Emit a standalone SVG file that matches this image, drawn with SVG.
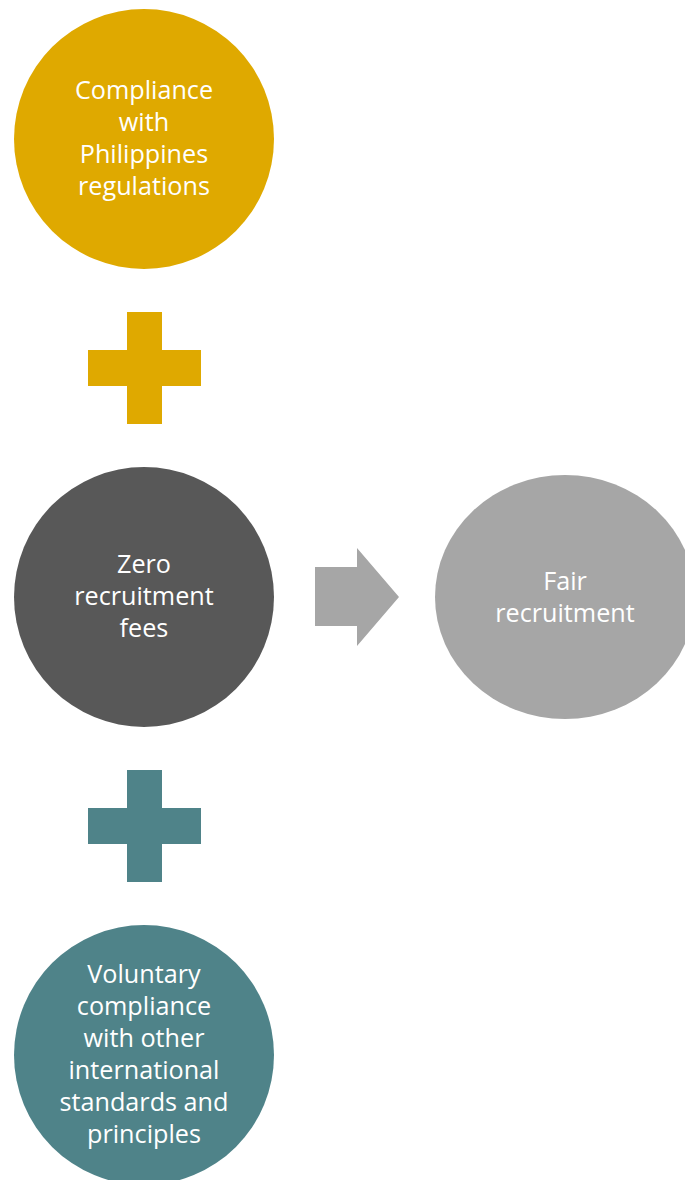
<svg xmlns="http://www.w3.org/2000/svg" width="685" height="1180" viewBox="0 0 685 1180">
  <style>
    .lbl { font-family: "Open Sans", "Liberation Sans", sans-serif; font-size: 25.2px; fill: #ffffff; text-anchor: middle; }
    .gold { fill: #DFA900; }
    .dark { fill: #585858; }
    .grey { fill: #A6A6A6; }
    .teal { fill: #4F8389; }
  </style>
  <rect width="685" height="1180" fill="#ffffff"/>

  <g id="node-philippines">
    <ellipse class="gold" cx="144" cy="139" rx="130" ry="130"/>
    <text class="lbl" x="144" y="99">Compliance</text>
    <text class="lbl" x="144" y="131">with</text>
    <text class="lbl" x="144" y="163">Philippines</text>
    <text class="lbl" x="144" y="195">regulations</text>
  </g>

  <g id="node-zero-fees">
    <ellipse class="dark" cx="144" cy="597" rx="130" ry="130"/>
    <text class="lbl" x="144" y="573">Zero</text>
    <text class="lbl" x="144" y="605">recruitment</text>
    <text class="lbl" x="144" y="637">fees</text>
  </g>

  <g id="node-voluntary">
    <ellipse class="teal" cx="144" cy="1055" rx="130" ry="130"/>
    <text class="lbl" x="144" y="983">Voluntary</text>
    <text class="lbl" x="144" y="1015">compliance</text>
    <text class="lbl" x="144" y="1047">with other</text>
    <text class="lbl" x="144" y="1079">international</text>
    <text class="lbl" x="144" y="1111">standards and</text>
    <text class="lbl" x="144" y="1143">principles</text>
  </g>

  <g id="node-fair">
    <ellipse class="grey" cx="565" cy="597" rx="130" ry="122"/>
    <text class="lbl" x="565" y="590">Fair</text>
    <text class="lbl" x="565" y="622">recruitment</text>
  </g>

  <g id="connectors">
    <!-- plus signs between the stacked circles -->
    <path class="gold" d="M127 312 H162 V350 H201 V386 H162 V424 H127 V386 H88 V350 H127 Z"/>
    <path class="teal" d="M127 770 H162 V808 H201 V844 H162 V882 H127 V844 H88 V808 H127 Z"/>
    <!-- block arrow to the result -->
    <path class="grey" d="M315 567 H357 V548 L399 597 L357 646 V626 H315 Z"/>
  </g>
</svg>
